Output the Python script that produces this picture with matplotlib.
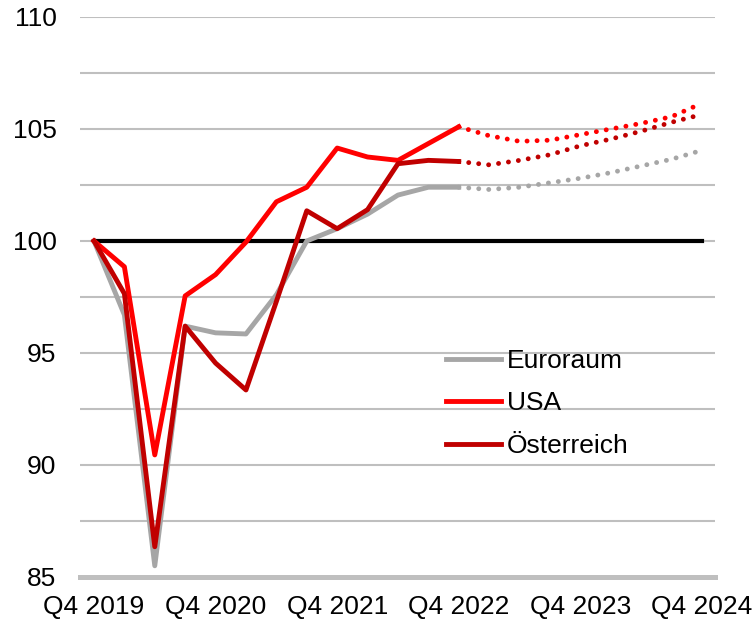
import matplotlib
matplotlib.use("Agg")
from matplotlib import pyplot as plt

# quarters Q4 2019 .. Q4 2024 (index 0..20)
quarters = ["Q4 2019", "Q1 2020", "Q2 2020", "Q3 2020", "Q4 2020",
            "Q1 2021", "Q2 2021", "Q3 2021", "Q4 2021",
            "Q1 2022", "Q2 2022", "Q3 2022", "Q4 2022",
            "Q1 2023", "Q2 2023", "Q3 2023", "Q4 2023",
            "Q1 2024", "Q2 2024", "Q3 2024", "Q4 2024"]

# actual values Q4 2019 .. Q4 2022
euro_hist = [100, 96.7, 85.5, 96.2, 95.9, 95.85, 97.6, 100.0, 100.55, 101.2, 102.05, 102.4, 102.4]
usa_hist = [100, 98.85, 90.45, 97.55, 98.5, 99.95, 101.75, 102.4, 104.15, 103.75, 103.6, 104.35, 105.1]
at_hist = [100, 97.65, 86.35, 96.2, 94.55, 93.35, 97.3, 101.35, 100.55, 101.4, 103.45, 103.6, 103.55]

# forecasts Q4 2022 .. Q4 2024
euro_fc = [102.4, 102.3, 102.4, 102.6, 102.8, 103.05, 103.35, 103.65, 104.05]
usa_fc = [105.1, 104.7, 104.45, 104.5, 104.75, 105.0, 105.25, 105.55, 106.15]
at_fc = [103.55, 103.4, 103.6, 103.85, 104.25, 104.55, 104.9, 105.3, 105.65]

names = ["Euroraum", "USA", "Österreich"]
colors = ["#A6A6A6", "#FF0000", "#C00000"]

plt.rcParams["font.family"] = ["Liberation Sans", "DejaVu Sans"]
plt.rcParams["font.size"] = 19

fig = plt.figure(figsize=(7.53, 6.22), dpi=100)
ax = fig.add_axes([80 / 753, 1 - 577 / 622, 635 / 753, 560 / 622])

x_hist = list(range(len(euro_hist)))
x_fc = list(range(len(euro_hist) - 1, len(quarters)))

ax.plot([0, len(quarters) - 1], [100, 100], color="black", lw=3, zorder=2)

lw = 3.5
for name, col, h, f in zip(names, colors, [euro_hist, usa_hist, at_hist], [euro_fc, usa_fc, at_fc]):
    ax.plot(x_hist, h, color=col, lw=lw, label=name, zorder=3, solid_joinstyle="round")
    ax.plot(x_fc, f, color=col, lw=lw, linestyle=(0, (0.01, 2.05)),
            dash_capstyle="round", zorder=3)

ax.set_ylim(85, 110)
ax.set_yticks([85, 90, 95, 100, 105, 110])
ax.set_yticks([87.5 + 5 * i for i in range(5)], minor=True)
ax.set_xlim(-0.46, 20.43)
ax.set_xticks(range(0, len(quarters), 4))
ax.set_xticklabels(quarters[::4])

ax.grid(axis="y", which="both", color="#BFBFBF", lw=1.5, zorder=0)
for s in ["top", "right", "left"]:
    ax.spines[s].set_visible(False)
ax.spines["bottom"].set_color("#BFBFBF")
ax.spines["bottom"].set_linewidth(3.6)
ax.tick_params(axis="both", which="both", length=0)
ax.tick_params(axis="y", pad=17)
ax.tick_params(axis="x", pad=13)

ax.legend(loc="upper left", bbox_to_anchor=(366 / 635, 1 - 332 / 560), frameon=False,
          handlelength=2.1, handletextpad=0.2, labelspacing=0.7, borderaxespad=0,
          borderpad=0)

fig.savefig("out.png", dpi=100)
